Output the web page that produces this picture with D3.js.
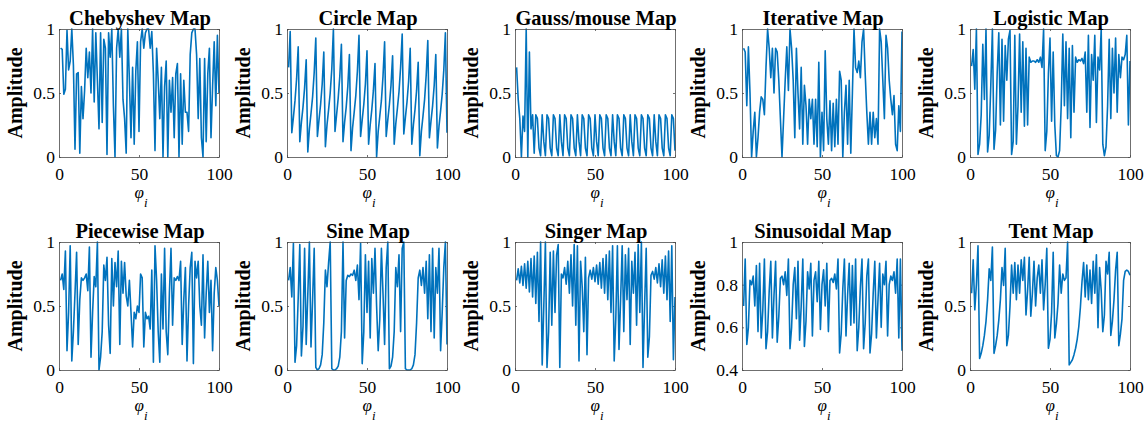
<!DOCTYPE html>
<html>
<head>
<meta charset="utf-8">
<script src="https://cdnjs.cloudflare.com/ajax/libs/d3/7.8.5/d3.min.js"></script>
<style>
  body { margin: 0; background: #fff; }
  svg text { font-family: "Liberation Serif", "Times New Roman", serif; fill: #000; }
</style>
</head>
<body>
<svg id="chart" width="1146" height="426"></svg>
<script>

// ===========================//
// DATA (100 iterations each)
// ===========================//

var chebyshev = [
  0.85, 0.84, 0.49, 0.53, 0.99, 0.68, 0.75, 1.00, 0.72, 0.06,
  0.65, 0.66, 0.03, 0.55, 0.30, 0.52, 0.85, 0.62, 0.82, 0.50,
  1.00, 0.43, 0.97, 0.60, 0.22, 0.97, 0.27, 0.92, 0.85, 0.02,
  0.97, 0.78, 1.00, 0.40, 0.00, 0.85, 1.00, 0.78, 1.00, 0.45,
  0.30, 0.03, 1.00, 0.60, 0.15, 0.70, 0.10, 0.67, 0.90, 0.20,
  0.90, 1.00, 0.85, 0.97, 1.00, 1.00, 0.85, 0.98, 0.65, 0.05,
  0.85, 0.60, 0.30, 0.70, 0.00, 0.55, 0.75, 0.00, 0.60, 0.35,
  0.62, 0.15, 0.65, 0.73, 0.00, 0.65, 0.10, 0.60, 0.35, 0.35,
  0.20, 0.80, 0.97, 1.00, 1.00, 0.80, 0.30, 0.77, 0.15, 0.00,
  0.77, 0.12, 0.65, 0.85, 0.15, 0.55, 0.90, 0.40, 0.95, 0.50
]

var circle = [
  0.70, 0.98, 0.19, 0.31, 0.44, 0.61, 0.86, 0.12, 0.27, 0.39,
  0.54, 0.76, 0.04, 0.22, 0.34, 0.47, 0.66, 0.93, 0.16, 0.29,
  0.41, 0.57, 0.82, 0.08, 0.25, 0.37, 0.50, 0.69, 1.00, 0.20,
  0.33, 0.46, 0.63, 0.88, 0.12, 0.27, 0.39, 0.55, 0.80, 0.05,
  0.23, 0.35, 0.48, 0.67, 0.95, 0.16, 0.29, 0.41, 0.57, 0.83,
  0.10, 0.25, 0.37, 0.52, 0.73, 0.00, 0.20, 0.32, 0.44, 0.63,
  0.90, 0.16, 0.29, 0.41, 0.56, 0.79, 0.10, 0.26, 0.38, 0.51,
  0.70, 0.96, 0.18, 0.31, 0.43, 0.59, 0.85, 0.10, 0.25, 0.37,
  0.52, 0.74, 0.01, 0.20, 0.32, 0.45, 0.64, 0.91, 0.15, 0.28,
  0.40, 0.56, 0.80, 0.07, 0.24, 0.36, 0.49, 0.68, 0.97, 0.19
]

var gaussMouse = [
  0.70, 0.45, 0.30, 0.00, 0.32, 0.20, 1.00, 0.00, 0.82, 0.22,
  0.33, 0.03, 0.33, 0.30, 0.07, 0.01, 0.33, 0.12, 0.01, 0.33,
  0.30, 0.07, 0.01, 0.33, 0.30, 0.07, 0.01, 0.33, 0.12, 0.01,
  0.33, 0.30, 0.07, 0.01, 0.33, 0.30, 0.07, 0.01, 0.33, 0.12,
  0.01, 0.33, 0.30, 0.07, 0.01, 0.33, 0.30, 0.07, 0.01, 0.33,
  0.12, 0.01, 0.33, 0.30, 0.07, 0.01, 0.33, 0.30, 0.07, 0.01,
  0.33, 0.12, 0.01, 0.33, 0.30, 0.07, 0.01, 0.33, 0.30, 0.07,
  0.01, 0.33, 0.12, 0.01, 0.33, 0.30, 0.07, 0.01, 0.33, 0.30,
  0.07, 0.01, 0.33, 0.30, 0.07, 0.01, 0.33, 0.12, 0.01, 0.33,
  0.30, 0.07, 0.01, 0.33, 0.30, 0.07, 0.01, 0.33, 0.30, 0.05
]

var iterative = [
  0.85, 0.82, 0.40, 0.86, 0.50, 0.00, 0.20, 0.35, 0.00, 0.15,
  0.35, 0.47, 0.45, 0.33, 0.70, 1.00, 0.85, 0.62, 0.85, 0.50,
  0.85, 0.82, 0.60, 0.30, 0.00, 0.30, 0.60, 0.86, 0.52, 1.00,
  0.85, 0.60, 0.15, 0.85, 0.50, 0.22, 0.70, 0.10, 0.56, 0.40,
  0.10, 0.45, 0.30, 0.45, 0.10, 0.45, 0.08, 0.74, 0.00, 0.35,
  0.05, 0.83, 0.30, 0.10, 0.44, 0.05, 0.42, 0.08, 0.45, 0.10,
  0.67, 0.60, 0.00, 0.35, 0.56, 0.10, 0.60, 0.03, 0.50, 1.00,
  0.70, 0.66, 0.75, 0.62, 0.90, 1.00, 0.65, 0.35, 0.10, 0.35,
  0.10, 0.35, 0.15, 0.30, 0.10, 1.00, 0.90, 0.60, 0.30, 0.95,
  0.85, 0.60, 0.45, 0.33, 0.48, 0.10, 0.05, 0.40, 0.20, 0.98
]

var logistic = [
  0.71, 0.84, 0.53, 1.00, 0.02, 0.10, 0.33, 0.88, 0.45, 1.00,
  0.04, 0.17, 0.56, 1.00, 0.06, 0.21, 0.66, 0.97, 0.25, 0.92,
  0.28, 0.87, 0.60, 0.92, 0.99, 0.02, 0.12, 0.95, 0.10, 0.40,
  0.96, 0.35, 0.90, 0.24, 0.85, 0.25, 0.78, 0.74, 0.75, 0.75,
  0.74, 0.76, 0.74, 0.78, 0.70, 1.00, 0.05, 0.20, 0.65, 0.93,
  0.28, 0.82, 0.25, 0.01, 0.00, 0.05, 0.40, 0.96, 0.40, 0.90,
  0.30, 0.85, 0.15, 0.87, 0.35, 0.78, 0.74, 0.76, 0.75, 0.77,
  0.73, 0.82, 0.35, 0.95, 0.23, 0.80, 0.60, 0.95, 0.27, 0.78,
  0.68, 1.00, 0.10, 0.01, 0.08, 0.40, 0.92, 0.30, 0.85, 0.50,
  0.93, 0.35, 0.80, 0.62, 0.78, 0.76, 0.80, 0.95, 0.25, 0.75
]

var piecewise = [
  0.70, 0.75, 0.63, 0.93, 0.15, 0.45, 0.97, 0.07, 0.30, 0.60,
  0.92, 0.20, 0.55, 0.72, 0.70, 0.72, 0.75, 0.62, 0.96, 0.10,
  0.45, 0.73, 0.65, 1.00, 0.00, 0.10, 0.30, 0.82, 0.70, 0.88,
  0.35, 0.13, 0.87, 0.50, 0.84, 0.65, 0.93, 0.20, 0.85, 0.60,
  0.84, 0.58, 0.50, 0.70, 0.45, 0.18, 0.45, 0.40, 0.50, 0.45,
  0.75, 0.72, 0.18, 0.45, 0.40, 0.42, 0.32, 0.78, 0.06, 0.97,
  0.70, 0.30, 0.06, 0.75, 0.32, 0.95, 0.30, 0.12, 0.60, 0.95,
  0.35, 0.72, 0.70, 0.73, 0.70, 0.85, 0.20, 0.55, 0.80, 0.07,
  0.50, 0.80, 0.92, 0.05, 0.85, 0.72, 0.85, 0.50, 0.35, 0.90,
  0.25, 0.60, 0.85, 0.45, 0.70, 0.15, 0.60, 0.80, 0.70, 0.50
]

var sine = [
  0.70, 0.80, 0.57, 0.99, 0.06, 0.19, 0.56, 0.98, 0.11, 0.34,
  0.95, 0.20, 0.59, 1.00, 0.18, 0.55, 0.95, 0.02, 0.00, 0.01,
  0.04, 0.12, 0.37, 0.78, 0.65, 0.84, 1.00, 0.01, 0.00, 0.00,
  0.01, 0.03, 0.10, 0.30, 1.00, 0.25, 0.70, 0.74, 0.73, 0.75,
  0.74, 0.78, 0.70, 0.82, 0.55, 0.99, 0.05, 0.30, 0.90, 0.45,
  0.85, 0.25, 0.87, 0.60, 0.95, 0.50, 0.15, 0.40, 0.95, 0.60,
  0.20, 0.80, 1.00, 0.01, 0.03, 0.10, 0.30, 0.80, 0.65, 0.90,
  0.30, 0.95, 1.00, 0.01, 0.00, 0.00, 0.00, 0.01, 0.04, 0.12,
  0.37, 0.72, 0.78, 0.66, 0.80, 0.60, 0.85, 0.40, 0.90, 0.30,
  0.95, 0.25, 0.80, 0.60, 0.95, 0.15, 0.45, 0.80, 1.00, 0.20
]

var singer = [
  0.70, 0.79, 0.68, 0.81, 0.66, 0.83, 0.64, 0.85, 0.61, 0.87,
  0.57, 0.89, 0.52, 0.92, 0.38, 1.00, 0.04, 0.50, 1.00, 0.02,
  0.30, 0.92, 0.35, 0.93, 0.45, 0.90, 0.98, 0.02, 0.75, 0.72,
  0.80, 0.67, 0.85, 0.60, 0.90, 0.50, 0.98, 0.35, 0.97, 0.07,
  0.85, 0.65, 0.30, 0.88, 0.12, 0.72, 0.78, 0.71, 0.80, 0.69,
  0.82, 0.67, 0.84, 0.64, 0.87, 0.60, 0.90, 0.55, 0.93, 0.45,
  0.97, 0.07, 0.40, 0.97, 0.16, 0.55, 0.97, 0.30, 0.90, 0.55,
  0.95, 0.20, 0.85, 0.60, 0.92, 0.35, 0.98, 0.45, 1.00, 0.02,
  0.50, 0.95, 0.10, 0.26, 0.74, 0.77, 0.71, 0.80, 0.68, 0.83,
  0.65, 0.86, 0.60, 0.89, 0.55, 0.93, 0.38, 0.97, 0.08, 0.57
]

var sinusoidal = [
  0.70, 0.92, 0.52, 0.60, 0.82, 0.80, 0.84, 0.70, 0.89, 0.58,
  0.90, 0.55, 0.68, 0.92, 0.50, 0.58, 0.77, 0.91, 0.55, 0.75,
  0.91, 0.53, 0.65, 0.83, 0.84, 0.80, 0.86, 0.75, 0.92, 0.50,
  0.60, 0.80, 0.88, 0.64, 0.91, 0.54, 0.70, 0.92, 0.51, 0.63,
  0.86, 0.78, 0.90, 0.56, 0.82, 0.86, 0.72, 0.91, 0.59, 0.80,
  0.87, 0.70, 0.90, 0.58, 0.82, 0.83, 0.81, 0.85, 0.78, 0.92,
  0.48, 0.57, 0.78, 0.92, 0.56, 0.75, 0.90, 0.61, 0.89, 0.62,
  0.92, 0.49, 0.60, 0.79, 0.92, 0.50, 0.62, 0.84, 0.92, 0.48,
  0.57, 0.76, 0.91, 0.55, 0.73, 0.90, 0.60, 0.85, 0.80, 0.91,
  0.56, 0.80, 0.84, 0.82, 0.86, 0.76, 0.92, 0.55, 0.92, 0.49
]

var tent = [
  0.60, 0.86, 0.47, 0.67, 0.97, 0.09, 0.13, 0.19, 0.27, 0.38,
  0.55, 0.79, 0.70, 0.96, 0.13, 0.19, 0.27, 0.39, 0.55, 0.80,
  0.66, 0.95, 0.19, 0.27, 0.50, 0.82, 0.60, 0.84, 0.55, 0.82,
  0.60, 0.86, 0.70, 0.88, 0.43, 0.62, 0.88, 0.42, 0.60, 0.85,
  0.50, 0.72, 0.82, 0.60, 0.86, 0.47, 0.67, 0.95, 0.17, 0.24,
  0.45, 0.92, 0.25, 0.36, 0.52, 0.82, 0.60, 0.75, 0.70, 0.72,
  1.00, 0.04, 0.06, 0.08, 0.12, 0.17, 0.24, 0.34, 0.49, 0.69,
  0.84, 0.57, 0.82, 0.55, 0.78, 0.52, 0.85, 0.60, 0.90, 0.33,
  0.80, 0.62, 0.30, 0.43, 0.85, 0.75, 0.92, 0.27, 0.38, 0.55,
  0.78, 0.92, 0.19, 0.28, 0.40, 0.70, 0.77, 0.78, 0.77, 0.74
]

var titles = ["Chebyshev Map", "Circle Map", "Gauss/mouse Map", "Iterative Map", "Logistic Map",
              "Piecewise Map", "Sine Map", "Singer Map", "Sinusoidal Map", "Tent Map"]
var series = [chebyshev, circle, gaussMouse, iterative, logistic,
              piecewise, sine, singer, sinusoidal, tent]

var xTicks = [0, 50, 100]
var yTicksUnit = [0, 0.5, 1]
var yTicksSinusoidal = [0.4, 0.6, 0.8, 1]


// ===========================//
// LAYOUT
// ===========================//

var W = 160, H = 128
var colLeft = [59, 287, 515, 742, 970]
var rowTop = [29, 242]
var lineColor = "#0072BD"
var axisColor = "#4d4d4d"

var svg = d3.select("#chart")

// style an axis group: serif labels, grey ticks, no domain line
function styleAxis(sel, showText) {
  sel.select(".domain").remove()
  sel.selectAll(".tick line").attr("stroke", axisColor).attr("stroke-width", 0.8)
  sel.selectAll("text")
    .style("font-family", '"Liberation Serif", "Times New Roman", serif')
    .style("font-size", "17.5px")
    .attr("fill", "#222")
  if (!showText) sel.selectAll("text").remove()
}

series.forEach(function(values, i) {

  var left = colLeft[i % 5]
  var top = rowTop[Math.floor(i / 5)]
  var isSinus = (titles[i] == "Sinusoidal Map")
  var yTicks = isSinus ? yTicksSinusoidal : yTicksUnit

  var x = d3.scaleLinear().domain([0, 100]).range([0, W])
  var y = d3.scaleLinear().domain(isSinus ? [0.4, 1] : [0, 1]).range([H, 0])

  var g = svg.append("g").attr("transform", "translate(" + left + "," + top + ")")

  // axes (ticks pointing inward, box on all four sides)
  g.append("g").attr("transform", "translate(0," + H + ")")
    .call(d3.axisBottom(x).tickValues(xTicks).tickSizeInner(-2).tickSizeOuter(0).tickPadding(10.5))
    .call(styleAxis, true)
  g.append("g")
    .call(d3.axisLeft(y).tickValues(yTicks).tickFormat(d3.format("")).tickSizeInner(-2).tickSizeOuter(0).tickPadding(4))
    .call(styleAxis, true)
  g.append("g")
    .call(d3.axisTop(x).tickValues(xTicks).tickSizeInner(-2).tickSizeOuter(0))
    .call(styleAxis, false)
  g.append("g").attr("transform", "translate(" + W + ",0)")
    .call(d3.axisRight(y).tickValues(yTicks).tickSizeInner(-2).tickSizeOuter(0))
    .call(styleAxis, false)

  // the series
  var line = d3.line()
    .x(function(d, k) { return x(k + 1) })
    .y(function(d) { return y(d) })

  g.append("path")
    .datum(values)
    .attr("d", line)
    .attr("fill", "none")
    .attr("stroke", lineColor)
    .attr("stroke-width", 1.6)
    .attr("stroke-linejoin", "round")

  // box
  g.append("rect")
    .attr("x", 0.5).attr("y", 0.5)
    .attr("width", W).attr("height", H)
    .attr("fill", "none")
    .attr("stroke", axisColor)
    .attr("stroke-width", 0.8)

  // title
  g.append("text")
    .attr("x", W / 2 + 1).attr("y", -4)
    .attr("text-anchor", "middle")
    .style("font-weight", "bold")
    .style("font-size", "20.5px")
    .text(titles[i])

  // y label
  g.append("text")
    .attr("transform", "translate(-37," + (H / 2) + ") rotate(-90)")
    .attr("text-anchor", "middle")
    .style("font-weight", "bold")
    .style("font-size", "20px")
    .text("Amplitude")

  // x label: phi with subscript i
  var xl = g.append("text")
    .attr("x", W / 2 + 2).attr("y", H + 41)
    .attr("text-anchor", "middle")
    .style("font-style", "italic")
    .style("font-size", "17px")
    .attr("fill", "#222")
  xl.append("tspan").text("φ")
  xl.append("tspan").attr("dy", 9).style("font-size", "13px").text("i")
})

</script>
</body>
</html>
